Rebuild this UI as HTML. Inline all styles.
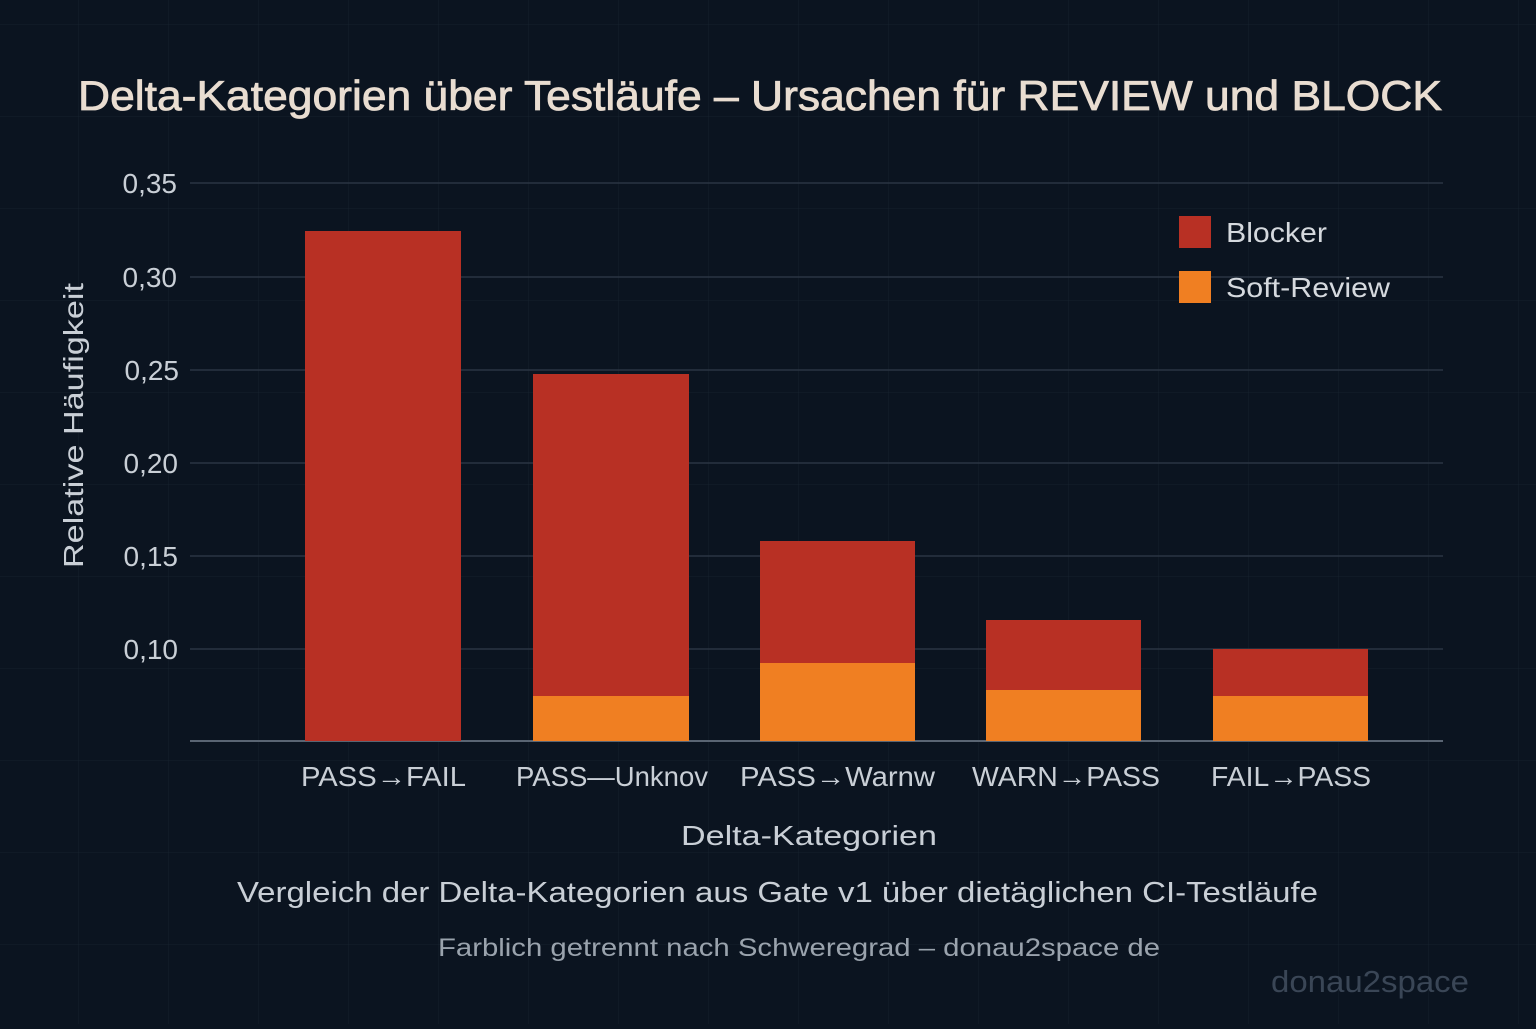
<!DOCTYPE html>
<html><head><meta charset="utf-8"><style>
body{margin:0;width:1536px;height:1024px;background:#0b1420;overflow:hidden;font-family:"Liberation Sans","DejaVu Sans",sans-serif;}
</style></head><body>
<svg width="1536" height="1024" xmlns="http://www.w3.org/2000/svg">
<defs><pattern id="g" width="90" height="92" patternUnits="userSpaceOnUse" x="78" y="24"><path d="M0 0H90M0 0V92" stroke="#16212d" stroke-width="1" fill="none"/></pattern></defs>
<rect width="1536" height="1024" fill="#0b1420"/>
<rect width="1536" height="1024" fill="url(#g)"/>
<text x="78" y="110" font-size="42" fill="#e9ddd1" stroke="#e9ddd1" stroke-width="0.8" textLength="1364" lengthAdjust="spacingAndGlyphs">Delta-Kategorien über Testläufe – Ursachen für REVIEW und BLOCK</text>
<g stroke="#2a3542" stroke-width="1.5">
<line x1="190" y1="183" x2="1443" y2="183"/><line x1="190" y1="277" x2="1443" y2="277"/>
<line x1="190" y1="370" x2="1443" y2="370"/><line x1="190" y1="463" x2="1443" y2="463"/>
<line x1="190" y1="556" x2="1443" y2="556"/><line x1="190" y1="649" x2="1443" y2="649"/>
</g>
<line x1="190" y1="741" x2="1443" y2="741" stroke="#5a6573" stroke-width="2"/>
<g font-size="28" fill="#c9cfd6" text-anchor="end">
<text x="177" y="193">0,35</text><text x="177" y="287">0,30</text><text x="179" y="380">0,25</text>
<text x="178" y="473">0,20</text><text x="178" y="566">0,15</text><text x="178" y="659">0,10</text>
</g>
<text transform="translate(83,568) rotate(-90)" font-size="28" fill="#c9cfd6" textLength="285" lengthAdjust="spacingAndGlyphs">Relative Häufigkeit</text>
<g fill="#b83024">
<rect x="305" y="231" width="156" height="510"/>
<rect x="533" y="374" width="156" height="322"/>
<rect x="760" y="541" width="155" height="122"/>
<rect x="986" y="620" width="155" height="70"/>
<rect x="1213" y="649" width="155" height="47"/>
</g>
<g fill="#f07f22">
<rect x="533" y="696" width="156" height="45"/>
<rect x="760" y="663" width="155" height="78"/>
<rect x="986" y="690" width="155" height="51"/>
<rect x="1213" y="696" width="155" height="45"/>
</g>
<rect x="1179" y="216" width="32" height="32" fill="#b83024"/>
<rect x="1179" y="271" width="32" height="32" fill="#f07f22"/>
<g font-size="28" fill="#d5d9de">
<text x="1226" y="242" textLength="101" lengthAdjust="spacingAndGlyphs">Blocker</text><text x="1226" y="297" textLength="164" lengthAdjust="spacingAndGlyphs">Soft-Review</text>
</g>
<g font-size="28" fill="#c9cfd6" lengthAdjust="spacingAndGlyphs">
<text x="301" y="786" textLength="165" lengthAdjust="spacingAndGlyphs">PASS→FAIL</text>
<text x="516" y="786" textLength="192" lengthAdjust="spacingAndGlyphs">PASS—Unknov</text>
<text x="740" y="786" textLength="195" lengthAdjust="spacingAndGlyphs">PASS→Warnw</text>
<text x="972" y="786" textLength="188" lengthAdjust="spacingAndGlyphs">WARN→PASS</text>
<text x="1211" y="786" textLength="160" lengthAdjust="spacingAndGlyphs">FAIL→PASS</text>
<text x="681" y="845" textLength="256" lengthAdjust="spacingAndGlyphs">Delta-Kategorien</text>
</g>
<text x="237" y="902" font-size="29" fill="#c9cfd6" textLength="1081" lengthAdjust="spacingAndGlyphs">Vergleich der Delta-Kategorien aus Gate v1 über dietäglichen CI-Testläufe</text>
<text x="438" y="956" font-size="25" fill="#9aa3ad" textLength="722" lengthAdjust="spacingAndGlyphs">Farblich getrennt nach Schweregrad – donau2space de</text>
<text x="1271" y="992" font-size="31" fill="#3a4656" textLength="198" lengthAdjust="spacingAndGlyphs">donau2space</text>
</svg>
</body></html>
